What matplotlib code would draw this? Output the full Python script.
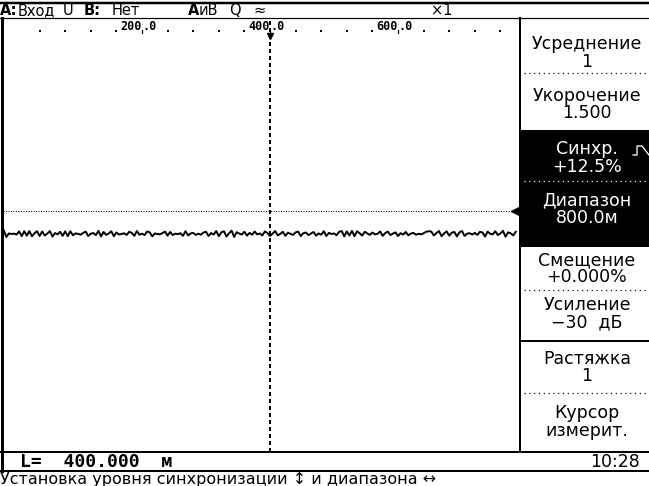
# Reflectometer screen: trace with sync level and distance cursor
import numpy as np
import matplotlib.pyplot as plt

plt.rcParams['font.family'] = ['DejaVu Sans']

# Data
range_m = 800.0
cursor_m = 400.0
sync_level = 12.5
ruler_labels = [200, 400, 600]
ruler_dots = [40, 80, 120, 160, 240, 280, 320, 360, 440, 480, 520, 560, 640, 680, 720, 760]

trace_step = 4.0
trace_level = [
    2.0, -1.6, 0.3, 0.0, 0.2, -0.3, 1.4, -1.2, 1.5, -0.9, 1.6, -1.3, 0.4, 1.5, -1.1, 1.3, -0.8, 0.2, 1.6, -1.4,
    0.5, -0.2, 1.2, -1.0, 1.4, -1.2, 1.5, -0.7, 0.3, 0.1, -0.4, 0.6, 1.3, -1.1, 0.2, 0.5, -0.6, 1.7, -1.3, 1.1,
    -0.5, 0.3, 1.5, -1.2, 0.8, -0.3, 0.0, 0.4, -0.5, 1.2, 0.6, -1.0, 1.6, -0.4, 0.2, -0.6, 1.4, 0.9, -1.3, 0.3,
    0.0, -0.2, 0.5, 1.3, -0.9, 1.1, -0.6, 0.2, -0.1, 0.4, -1.0, 1.5, -0.8, 0.3, 0.6, -0.5, 0.2, -0.4, 0.8, 1.2,
    -1.1, 0.5, -0.3, 1.6, -1.2, 0.9, 1.5, -1.4, 0.4, 1.8, -1.6, 1.0, 0.2, -0.3, 1.2, -0.9, 0.6, -0.4, 1.3, -0.2,
    0.3, -0.8, 1.4, 0.5, -1.1, 0.2, 1.6, -0.7, 0.0, 1.2, -1.0, 0.7, 0.1, -0.5, 0.9, 1.3, -1.2, 0.4, 0.8, -0.6,
    0.2, 1.1, -0.9, 0.3, -0.4, 1.5, -1.1, 0.6, 0.0, 0.3, -0.7, 1.2, 1.6, -1.3, 1.4, -0.8, 1.7, -1.2, 1.5, 0.4,
    -0.9, 1.2, 0.3, -0.5, 0.8, -0.2, 0.1, 1.4, -1.0, 0.5, 1.3, -0.6, 0.2, 0.9, -1.1, 0.4, -0.3, 1.1, -0.7, 0.2,
    0.6, -0.4, 0.1, -0.2, 0.4, 1.2, 1.5, 1.3, -0.8, 0.5, 1.6, -1.2, 0.3, 1.4, -0.9, 0.7, 1.1, -1.3, 0.9, 1.6,
    -1.1, 0.2, 0.4, -0.3, 0.6, -0.5, 1.2, 0.8, -1.4, 1.3, 0.1, -0.2, 1.5, -0.6, 0.3, 1.7, -1.5, 0.9, 0.4, -0.8, 1.2,
]
trace_m = np.arange(len(trace_level)) * trace_step - 16

header_items = [
    ("A:", 0, "bold"), ("Вход", 18, "normal"), ("U", 63, "normal"),
    ("B:", 84, "bold"), ("Нет", 112, "normal"), ("A", 188, "bold"),
    ("иB", 199, "normal"), ("Q", 229, "normal"), ("≈", 253, "normal"),
    ("×1", 431, "normal"),
]
menu_items = [
    ("Усреднение\n1", 53, "k"),
    ("Укорочение\n1.500", 104.5, "k"),
    ("Синхр.\n+12.5%", 158, "w"),
    ("Диапазон\n800.0м", 209.5, "w"),
    ("Смещение\n+0.000%", 268.5, "k"),
    ("Усиление\n−30  дБ", 313.5, "k"),
    ("Растяжка\n1", 367.5, "k"),
    ("Курсор\nизмерит.", 422, "k"),
]
menu_dotted = [(73, "k"), (181, "w"), (290, "k"), (393, "k")]
cursor_text = "L=  400.000  м"
clock_text = "10:28"
status_text = "Установка уровня синхронизации ↕ и диапазона ↔"

# Figure in screen pixels
fig = plt.figure(figsize=(6.49, 4.86), dpi=100)
ui = fig.add_axes([0, 0, 1, 1])
ui.set_xlim(0, 649)
ui.set_ylim(486, 0)
ui.axis("off")

px = 0.72  # one pixel in points

# frame lines
ui.plot([0, 649], [3, 3], color="k", lw=2.5 * px)
ui.plot([0, 649], [18, 18], color="k", lw=1.2 * px)
ui.plot([2, 2], [18, 471], color="k", lw=3 * px)
ui.plot([520, 520], [18, 452], color="k", lw=2 * px)
ui.plot([0, 649], [452, 452], color="k", lw=2 * px)
ui.plot([0, 649], [471, 471], color="k", lw=2 * px)
ui.plot([521, 649], [341, 341], color="k", lw=2 * px)

# header
for txt, x, w in header_items:
    ui.text(x, 10.5, txt, fontsize=10.5, fontweight=w, ha="left", va="center")

# right menu
ui.add_patch(plt.Rectangle((521, 130), 128, 117, color="k", lw=0))
for txt, y, c in menu_items:
    ui.text(587, y, txt, fontsize=12.5, color=c, ha="center", va="center",
            ma="center", linespacing=0.95)
for y, c in menu_dotted:
    ui.plot([524, 649], [y, y], color=c, lw=1.2 * px, ls=(0, (1, 3)))
ui.plot([633, 637, 637, 642, 649], [155, 155, 146, 146, 155], color="w", lw=1.3 * px)

# bottom rows
ui.text(20, 462, cursor_text, fontsize=13, fontweight="bold",
        family="DejaVu Sans Mono", ha="left", va="center")
ui.text(640, 462, clock_text, fontsize=12.5, ha="right", va="center")
ui.text(0, 479, status_text, fontsize=11.5, ha="left", va="center")

# plot area
ax = fig.add_axes([3 / 649, (486 - 452) / 486, (520 - 3) / 649, (452 - 18) / 486])
ax.set_xlim(-17.2, 790.6)
ax.set_ylim(-118.5, 117.4)
ax.axis("off")
ax.patch.set_alpha(0)

ax.axhline(sync_level, color="k", lw=1 * px, ls=(0, (1, 1.5)))
ax.axvline(cursor_m, color="k", lw=2 * px, ls=(0, (2, 1.5)))
ax.plot(trace_m, trace_level, color="k", lw=1.4)
ax.plot(783, sync_level, marker="<", color="k", ms=6, clip_on=False)

# distance ruler
ax.scatter(ruler_dots, [110.3] * len(ruler_dots), s=3, color="k", marker="s", lw=0)
for v in ruler_labels:
    ax.text(v - 1, 112.8, "%d" % v, fontsize=8.5, fontweight="bold", family="DejaVu Sans Mono",
            ha="right", va="center")
    ax.text(v + 1, 112.8, ".0", fontsize=8.5, fontweight="bold", family="DejaVu Sans Mono",
            ha="left", va="center")
    ax.plot([v, v], [109.0, 111.0], color="k", lw=1.2 * px)
ax.plot(cursor_m, 107.6, marker="v", color="k", ms=5, clip_on=False)

fig.savefig("out.png", dpi=100)
